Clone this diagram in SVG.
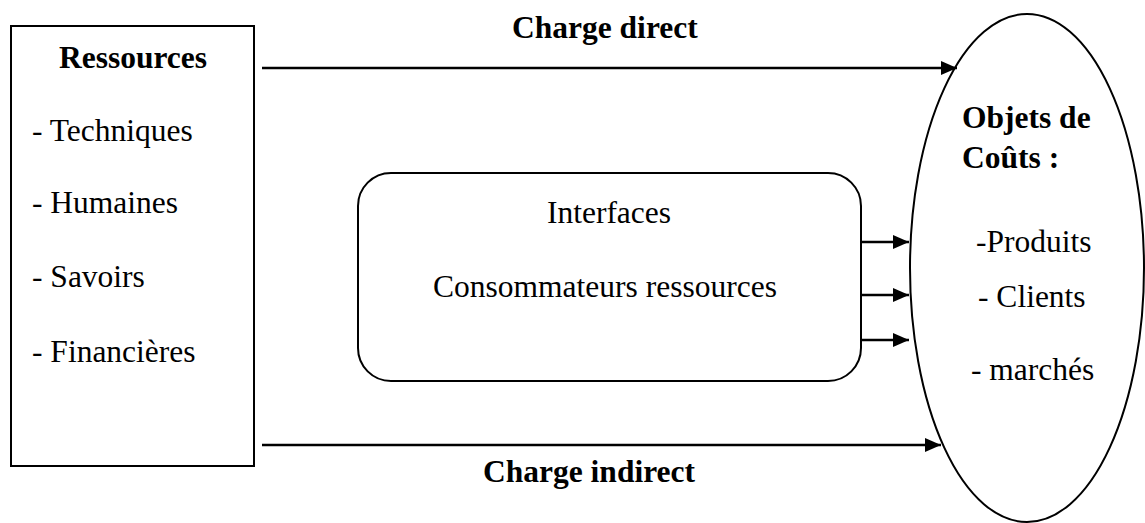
<svg xmlns="http://www.w3.org/2000/svg" width="1145" height="523" viewBox="0 0 1145 523">
<defs>
<style>
text{font-family:"Liberation Serif","Times New Roman",serif;font-size:31.5px;fill:#000}
.b{font-weight:bold}
.m{text-anchor:middle}
.shape{fill:#fff;stroke:#000;stroke-width:2}
.conn line{stroke:#000;stroke-width:2.5}
</style>
<marker id="ah" markerWidth="16" markerHeight="14" refX="16" refY="7" orient="auto" markerUnits="userSpaceOnUse">
<path d="M0,0 L16,7 L0,14 Z" fill="#000"/>
</marker>
</defs>
<rect width="1145" height="523" fill="#fff"/>
<g id="ressources">
<rect class="shape" x="11" y="26" width="243" height="440"/>
<text class="b m" x="133" y="68">Ressources</text>
<text x="32" y="141">- Techniques</text>
<text x="32" y="213">- Humaines</text>
<text x="32" y="287">- Savoirs</text>
<text x="32" y="362">- Financières</text>
</g>
<g id="interfaces">
<rect class="shape" x="358" y="173" width="503" height="208" rx="33" ry="33"/>
<text class="m" x="609" y="223">Interfaces</text>
<text class="m" x="605" y="297">Consommateurs ressources</text>
</g>
<g id="objets">
<ellipse class="shape" cx="1027" cy="268" rx="117" ry="254"/>
<text class="b" x="962" y="128">Objets de</text>
<text class="b" x="962" y="168">Coûts :</text>
<text x="976" y="252">-Produits</text>
<text x="978" y="307">- Clients</text>
<text x="971" y="380">- marchés</text>
</g>
<g id="connectors" class="conn">
<line x1="262" y1="68" x2="957" y2="68" marker-end="url(#ah)"/>
<line x1="262" y1="445" x2="941" y2="445" marker-end="url(#ah)"/>
<line x1="861" y1="242" x2="909" y2="242" marker-end="url(#ah)"/>
<line x1="861" y1="295" x2="909" y2="295" marker-end="url(#ah)"/>
<line x1="861" y1="340" x2="909" y2="340" marker-end="url(#ah)"/>
</g>
<g id="labels">
<text class="b" x="512" y="38">Charge direct</text>
<text class="b" x="483" y="482">Charge indirect</text>
</g>
</svg>
